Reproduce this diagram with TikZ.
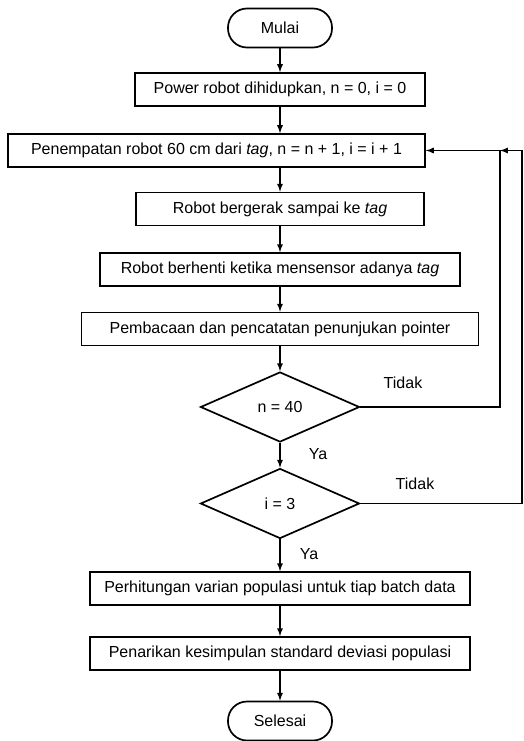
\documentclass[tikz,border=0pt]{standalone}
\usepackage{fontspec}
\setmainfont{Liberation Sans}
\usetikzlibrary{shapes.geometric}

\begin{document}
\begin{tikzpicture}[x=1pt,y=-1pt,line width=1.7pt,
  box/.style={draw,rectangle,minimum height=33pt,inner sep=0pt,font=\fontsize{16}{19}\selectfont},
  term/.style={draw,rectangle,rounded corners=19pt,minimum width=104pt,minimum height=39pt,inner sep=0pt,font=\fontsize{16}{19}\selectfont},
  cond/.style={draw,diamond,minimum width=159pt,minimum height=70pt,inner sep=0pt,font=\fontsize{16}{19}\selectfont},
  arr/.style={-latex},
  lbl/.style={font=\fontsize{16}{19}\selectfont}]
  \useasboundingbox (0,0) rectangle (524,741);

  \node[term] (start) at (280,28) {Mulai};
  \node[box,minimum width=290pt] (power) at (280,89.5) {Power robot dihidupkan, n = 0, i = 0};
  \node[box,minimum width=417pt] (place) at (216.5,150.5) {Penempatan robot 60 cm dari \textit{tag}, n = n + 1, i = i + 1};
  \node[box,minimum width=288pt] (move) at (280,209) {Robot bergerak sampai ke \textit{tag}};
  \node[box,minimum width=360pt] (stop) at (280,269.5) {Robot berhenti ketika mensensor adanya \textit{tag}};
  \node[box,minimum width=397pt] (read) at (280,329) {Pembacaan dan pencatatan penunjukan pointer};
  \node[cond] (nchk) at (280,407) {n = 40};
  \node[cond] (ichk) at (280,503.5) {i = 3};
  \node[box,minimum width=380pt] (var) at (280,588.5) {Perhitungan varian populasi untuk tiap batch data};
  \node[box,minimum width=380pt] (dev) at (280,653.5) {Penarikan kesimpulan standard deviasi populasi};
  \node[term] (end) at (280,721) {Selesai};

  \coordinate (join) at (500,150.5);
  \coordinate (outer) at (522,150.5);

  \draw[arr] (start) -- (power);
  \draw[arr] (power) -- (power |- place.north);
  \draw[arr] (power |- place.south) -- (move);
  \draw[arr] (move) -- (stop);
  \draw[arr] (stop) -- (read);
  \draw[arr] (read) -- (nchk);
  \draw[arr] (nchk) -- (ichk);
  \draw[arr] (ichk) -- (var);
  \draw[arr] (var) -- (dev);
  \draw[arr] (dev) -- (end);

  % loop back
  \draw[arr] (nchk.east) -| (join) -- (place.east);
  \draw[arr] (ichk.east) -| (outer) -- (join);

  \node[lbl] (no1) at (403,383) {Tidak};
  \node[lbl] (no2) at (415,484) {Tidak};
  \node[lbl] (yes1) at (318,454) {Ya};
  \node[lbl] (yes2) at (309,554) {Ya};
\end{tikzpicture}
\end{document}
